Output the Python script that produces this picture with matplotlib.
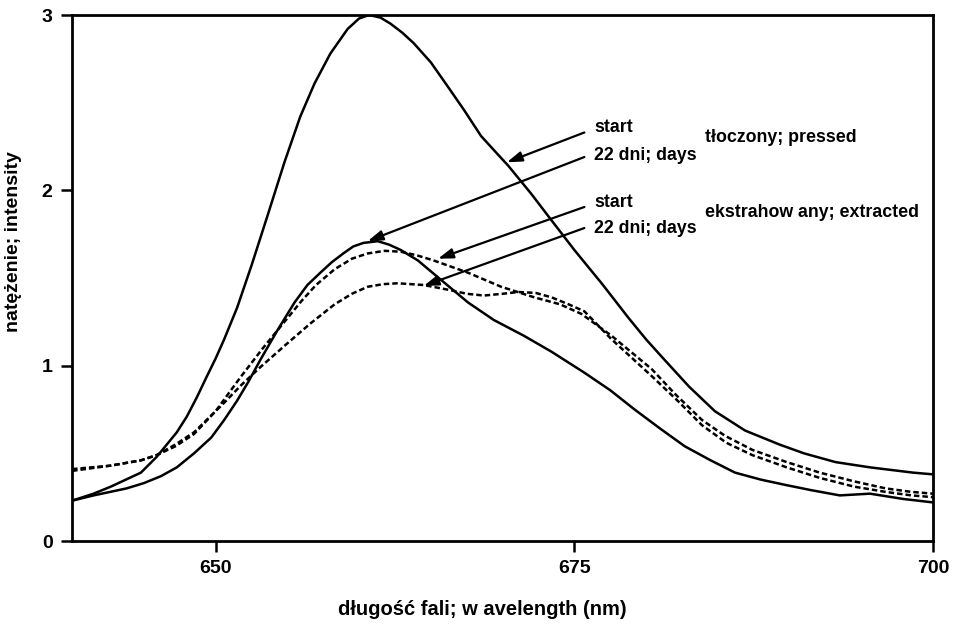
import matplotlib
matplotlib.use("Agg")
import matplotlib.pyplot as plt

plt.rcParams["font.family"] = ["Liberation Sans", "DejaVu Sans"]
plt.rcParams["font.weight"] = "bold"

# tłoczony (pressed), start
pressed_start_x = [640, 641.5, 642.7, 644.8, 645.9, 646.5, 647.3, 648.0, 648.7, 649.4, 650.0,
                   650.6, 651.5, 652.5, 653.6, 654.8, 655.9, 656.9, 658.0, 659.2, 660.0, 660.7,
                   661.5, 662.2, 663.0, 663.8, 665.0, 666.2, 667.3, 668.5, 669.5, 670.4, 672.0,
                   673.4, 675.0, 676.9, 678.8, 680.0, 681.1, 683.0, 684.8, 686.9, 689.3, 691.0,
                   693.2, 695.6, 698.6, 700]
pressed_start_y = [0.23, 0.27, 0.31, 0.39, 0.48, 0.54, 0.62, 0.71, 0.82, 0.94, 1.04,
                   1.15, 1.33, 1.57, 1.85, 2.16, 2.42, 2.61, 2.78, 2.92, 2.98, 3.0,
                   2.985, 2.95, 2.90, 2.84, 2.73, 2.59, 2.46, 2.31, 2.22, 2.14, 1.98,
                   1.83, 1.66, 1.47, 1.27, 1.15, 1.05, 0.88, 0.74, 0.63, 0.55, 0.50,
                   0.45, 0.42, 0.39, 0.38]

# tłoczony (pressed), 22 days
pressed_22_x = [640, 641.5, 643.8, 645, 646.2, 647.3, 648.5, 649.7, 650.6, 651.5, 652.3, 653.1,
                654.3, 655.5, 656.4, 657.3, 658.1, 658.9, 659.6, 660.3, 661.3, 662.1, 662.9,
                664.1, 665.7, 667.6, 669.4, 671.5, 673.4, 675.7, 677.5, 679.2, 681.0, 682.7,
                684.5, 686.2, 688.0, 689.7, 691.5, 693.5, 695.6, 697.9, 700]
pressed_22_y = [0.23, 0.26, 0.30, 0.33, 0.37, 0.42, 0.50, 0.59, 0.69, 0.80, 0.91, 1.03,
                1.20, 1.36, 1.46, 1.53, 1.59, 1.64, 1.68, 1.70, 1.71, 1.69, 1.66,
                1.60, 1.49, 1.36, 1.26, 1.17, 1.08, 0.96, 0.86, 0.75, 0.64, 0.54,
                0.46, 0.39, 0.35, 0.32, 0.29, 0.26, 0.27, 0.24, 0.22]

# ekstrahowany (extracted), start
extr_start_x = [640, 642.7, 644.8, 645.9, 647.2, 648.5, 650.0, 651.7, 653.3, 655.0, 656.0, 657.0,
                658.3, 659.5, 660.6, 661.8, 662.9, 664.0, 665.2, 667.6, 669.9, 672.2, 674.0,
                675.5, 677.6, 680.4, 682.0, 683.9, 685.5, 687.4, 689.8, 692.1, 694.5, 696.7,
                698.5, 700]
extr_start_y = [0.40, 0.43, 0.46, 0.49, 0.54, 0.61, 0.74, 0.93, 1.10, 1.27, 1.37, 1.46,
                1.55, 1.61, 1.64, 1.655, 1.65, 1.63, 1.60, 1.53, 1.45, 1.39, 1.35,
                1.295, 1.17, 0.98, 0.84, 0.69, 0.60, 0.52, 0.45, 0.39, 0.34, 0.30,
                0.28, 0.27]

# ekstrahowany (extracted), 22 days
extr_22_x = [640, 642.7, 644.8, 645.9, 647.2, 648.5, 650.5, 651.8, 653.1, 654.9, 656.6, 658.3,
             659.5, 660.6, 661.7, 662.7, 663.6, 664.5, 666.4, 667.5, 668.7, 670.0, 671.1,
             672.3, 673.4, 674.6, 675.7, 677.6, 680.4, 682.2, 683.9, 685.6, 687.4, 689.8,
             692.1, 694.5, 696.7, 698.5, 700]
extr_22_y = [0.41, 0.43, 0.46, 0.49, 0.55, 0.62, 0.78, 0.89, 0.99, 1.12, 1.24, 1.35,
             1.41, 1.45, 1.465, 1.47, 1.465, 1.46, 1.43, 1.41, 1.40, 1.41, 1.42,
             1.415, 1.39, 1.35, 1.31, 1.15, 0.94, 0.80, 0.66, 0.56, 0.49, 0.42,
             0.36, 0.31, 0.28, 0.26, 0.25]

fig = plt.figure(figsize=(9.58, 6.25), dpi=100)
ax = fig.add_axes([0.0752, 0.1344, 0.8988, 0.8416])

solid = dict(color="black", lw=1.8, solid_joinstyle="round")
dashed = dict(color="black", lw=1.8, linestyle=(0, (2.2, 1.2)))

ax.plot(pressed_start_x, pressed_start_y, **solid)
ax.plot(pressed_22_x, pressed_22_y, **solid)
ax.plot(extr_start_x, extr_start_y, **dashed)
ax.plot(extr_22_x, extr_22_y, **dashed)

ax.set_xlim(640, 700)
ax.set_ylim(0, 3)
ax.set_xticks([650, 675, 700])
ax.set_yticks([0, 1, 2, 3])
ax.tick_params(direction="out", length=8, width=1.8, labelsize=14, pad=6)
for s in ax.spines.values():
    s.set_linewidth(2)

ax.set_xlabel("długość fali; w avelength (nm)", fontsize=14.5, fontweight="bold")
ax.xaxis.set_label_coords(0.477, -0.112)
ax.set_ylabel("natężenie; intensity", fontsize=14, fontweight="bold")
ax.yaxis.set_label_coords(-0.058, 0.57)

# labels and arrows
arrow = dict(arrowstyle="-|>,head_length=0.9,head_width=0.3", color="black", lw=1.6,
             shrinkA=0, shrinkB=0)
ax.annotate("", xy=(670.3, 2.16), xytext=(675.7, 2.33), arrowprops=arrow)
ax.annotate("", xy=(660.6, 1.71), xytext=(675.7, 2.19), arrowprops=arrow)
ax.annotate("", xy=(665.5, 1.61), xytext=(675.7, 1.905), arrowprops=arrow)
ax.annotate("", xy=(664.5, 1.455), xytext=(675.7, 1.785), arrowprops=arrow)

txt = dict(fontsize=12.8, fontweight="bold", va="center", ha="left")
ax.text(676.4, 2.356, "start", **txt)
ax.text(676.4, 2.20, "22 dni; days", **txt)
ax.text(684.1, 2.30, "tłoczony; pressed", **txt)
ax.text(676.4, 1.93, "start", **txt)
ax.text(676.4, 1.785, "22 dni; days", **txt)
ax.text(684.1, 1.875, "ekstrahow any; extracted", **txt)

fig.savefig("out.png", dpi=100)
